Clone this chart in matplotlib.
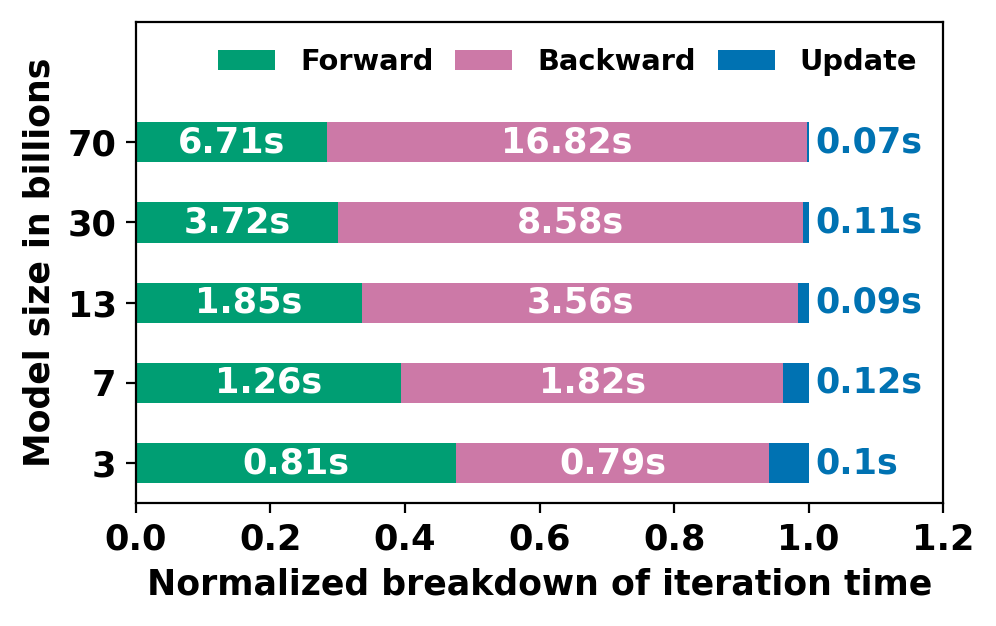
import numpy as np
import matplotlib
matplotlib.use("Agg")
import matplotlib.pyplot as plt

plt.rcParams['font.family'] = ['DejaVu Sans']
plt.rcParams['font.weight'] = 'bold'

sizes = ["3", "7", "13", "30", "70"]
forward = [0.81, 1.26, 1.85, 3.72, 6.71]
backward = [0.79, 1.82, 3.56, 8.58, 16.82]
update = [0.1, 0.12, 0.09, 0.11, 0.07]

colors = {"Forward": "#009E73", "Backward": "#CC79A7", "Update": "#0072B2"}

fw = np.array(forward)
bw = np.array(backward)
up = np.array(update)
total = fw + bw + up
fw_n = fw / total
bw_n = bw / total
up_n = up / total

fig = plt.figure(figsize=(4.98, 3.13), dpi=200)
ax = fig.add_axes([0.1365, 0.196, 0.8105, 0.769])

y = np.arange(len(sizes))
h = 0.5
ax.barh(y, fw_n, height=h, color=colors["Forward"], label="Forward")
ax.barh(y, bw_n, height=h, left=fw_n, color=colors["Backward"], label="Backward")
ax.barh(y, up_n, height=h, left=fw_n + bw_n, color=colors["Update"], label="Update")

for i in range(len(sizes)):
    ax.text(fw_n[i] / 2, y[i], f"{forward[i]}s", ha="center", va="center",
            color="white", fontsize=12.6, fontweight="bold")
    ax.text(fw_n[i] + bw_n[i] / 2, y[i], f"{backward[i]}s", ha="center", va="center",
            color="white", fontsize=12.6, fontweight="bold")
    ax.text(1.01, y[i], f"{update[i]}s", ha="left", va="center",
            color=colors["Update"], fontsize=12.6, fontweight="bold")

ax.set_xlim(0, 1.2)
ax.set_ylim(-0.5, 5.5)
ax.set_yticks(y)
ax.set_yticklabels(sizes)
ax.set_xticks([0.0, 0.2, 0.4, 0.6, 0.8, 1.0, 1.2])
ax.tick_params(labelsize=12.7)
ax.set_xlabel("Normalized breakdown of iteration time", fontsize=12.5, fontweight="bold")
ax.set_ylabel("Model size in billions", fontsize=12.5, fontweight="bold")

ax.legend(loc="upper right", ncol=3, frameon=False, fontsize=10.4,
          handlelength=1.97, handletextpad=0.87, columnspacing=0.75,
          borderaxespad=0.5)

fig.savefig("out.png", dpi=200)
